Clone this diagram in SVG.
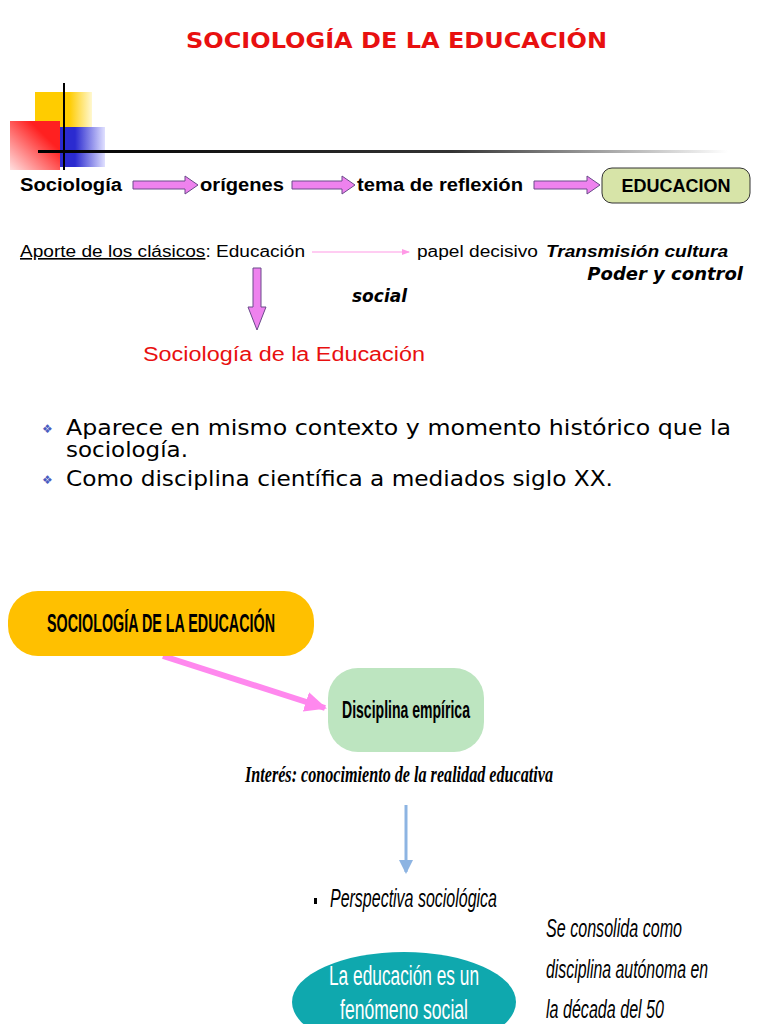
<svg xmlns="http://www.w3.org/2000/svg" width="768" height="1024" viewBox="0 0 768 1024">
<defs>
<style>
.s{font-family:"Liberation Sans",Arial,sans-serif}
.v{font-family:"DejaVu Sans",Verdana,sans-serif}
.bi{font-weight:bold;font-style:italic}
.fat{fill:#ee82ee;stroke:#6a4a8a;stroke-width:1}
</style>
<linearGradient id="hl" x1="0" x2="1"><stop offset="0" stop-color="#000"/><stop offset="0.6" stop-color="#333"/><stop offset="1" stop-color="#fff"/></linearGradient>
<linearGradient id="yl" x1="0" x2="1"><stop offset="0.6" stop-color="#ffcc00"/><stop offset="1" stop-color="#fff8d0"/></linearGradient>
<linearGradient id="bl" x1="0" x2="1"><stop offset="0.5" stop-color="#2b2bd0"/><stop offset="1" stop-color="#e0e0ff"/></linearGradient>
<linearGradient id="rd" x1="1" x2="0" y1="0" y2="1"><stop offset="0.3" stop-color="#ff2020"/><stop offset="1" stop-color="#ffe0e0"/></linearGradient>
<marker id="pa" markerWidth="8" markerHeight="8" refX="7" refY="4" orient="auto" markerUnits="userSpaceOnUse"><path d="M0,1 L8,4 L0,7z" fill="#ff99e6"/></marker>
<marker id="ba" markerWidth="14" markerHeight="14" refX="12" refY="7" orient="auto" markerUnits="userSpaceOnUse"><path d="M0,0 L14,7 L0,14z" fill="#8db4e2"/></marker>
<marker id="pk" markerWidth="24" markerHeight="24" refX="20" refY="12" orient="auto" markerUnits="userSpaceOnUse"><path d="M0,2 L22,12 L0,22z" fill="#ff88ee"/></marker>
</defs>
<rect width="768" height="1024" fill="#fff"/>
<text x="186" y="48" class="v" font-weight="bold" font-size="21" fill="#e81010" textLength="421" lengthAdjust="spacingAndGlyphs">SOCIOLOGÍA DE LA EDUCACIÓN</text>
<g id="deco">
<rect x="35" y="92" width="57" height="58" fill="url(#yl)"/>
<rect x="45" y="127" width="60" height="40" fill="url(#bl)"/>
<rect x="10" y="121" width="50" height="49" fill="url(#rd)"/>
<line x1="64" y1="83" x2="64" y2="170" stroke="#000" stroke-width="2"/>
<rect x="38" y="150" width="690" height="3" fill="url(#hl)"/>
</g>
<g id="connectors">
<path class="fat" d="M133,181 H185 V176 L198,185 L185,194 V189 H133Z"/>
<path class="fat" d="M292,181 H342 V176 L355,185 L342,194 V189 H292Z"/>
<path class="fat" d="M534,181 H587 V176 L600,185 L587,194 V189 H534Z"/>
<line x1="312" y1="252" x2="409" y2="252" stroke="#ff99e6" stroke-width="1.2" marker-end="url(#pa)"/>
<path class="fat" d="M253,268 H261 V307 H266 L257,330 L248,307 H253Z"/>
<line x1="163" y1="656" x2="325" y2="708" stroke="#ff88ee" stroke-width="6" marker-end="url(#pk)"/>
<line x1="406" y1="805" x2="406" y2="872" stroke="#8db4e2" stroke-width="3" marker-end="url(#ba)"/>
</g>
<g id="row1" class="s" font-weight="bold" font-size="18">
<text x="20" y="191" textLength="102" lengthAdjust="spacingAndGlyphs">Sociología</text>
<text x="200" y="191" textLength="84" lengthAdjust="spacingAndGlyphs">orígenes</text>
<text x="357" y="191" textLength="166" lengthAdjust="spacingAndGlyphs">tema de reflexión</text>
</g>
<g id="educacion">
<rect x="602" y="168" width="148" height="35" rx="10" fill="#d7e4a8" stroke="#333" stroke-width="1"/>
<text x="676" y="192" text-anchor="middle" class="s" font-weight="bold" font-size="18">EDUCACION</text>
</g>
<g id="aporte" class="s" font-size="16">
<text x="20" y="257" textLength="285" lengthAdjust="spacingAndGlyphs"><tspan text-decoration="underline">Aporte de los clásicos</tspan>: Educación</text>
<text x="417" y="257" textLength="121" lengthAdjust="spacingAndGlyphs">papel decisivo</text>
<text x="546" y="257" class="bi" textLength="182" lengthAdjust="spacingAndGlyphs">Transmisión cultura</text>
<text x="743" y="280" text-anchor="end" class="bi v" font-size="18">Poder y control</text>
<text x="352" y="302" class="bi v" font-size="17">social</text>
</g>
<text id="socedu" x="143" y="361" class="s" font-size="20" fill="#e81010" textLength="282" lengthAdjust="spacingAndGlyphs">Sociología de la Educación</text>
<g id="bullets" class="v" font-size="21">
<text x="42" y="433" font-size="12" fill="#4a5cc0">❖</text>
<text x="66" y="435" textLength="665" lengthAdjust="spacingAndGlyphs">Aparece en mismo contexto  y momento histórico que la</text>
<text x="66" y="457" textLength="122" lengthAdjust="spacingAndGlyphs">sociología.</text>
<text x="42" y="484" font-size="12" fill="#4a5cc0">❖</text>
<text x="66" y="486" textLength="547" lengthAdjust="spacingAndGlyphs">Como disciplina científica a mediados siglo XX.</text>
</g>
<g id="n-soc">
<rect x="8" y="591" width="306" height="65" rx="30" fill="#ffc000"/>
<text x="47" y="632" class="s" font-weight="bold" font-size="25" textLength="228" lengthAdjust="spacingAndGlyphs">SOCIOLOGÍA DE LA EDUCACIÓN</text>
</g>
<g id="n-emp">
<rect x="328" y="668" width="156" height="84" rx="30" fill="#bde5c0"/>
<text x="342" y="718" class="s" font-weight="bold" font-size="24" textLength="128" lengthAdjust="spacingAndGlyphs">Disciplina empírica</text>
</g>
<text id="interes" x="245" y="782" font-family="Liberation Serif,serif" class="bi" font-size="24" textLength="308" lengthAdjust="spacingAndGlyphs">Interés: conocimiento de la realidad educativa</text>
<g id="persp">
<rect x="314" y="898" width="3" height="6" fill="#000"/>
<text x="330" y="907" class="s" font-style="italic" font-size="25" textLength="167" lengthAdjust="spacingAndGlyphs">Perspectiva sociológica</text>
</g>
<g id="n-fen">
<ellipse cx="404" cy="1002" rx="112" ry="50" fill="#0fa8ae"/>
<text x="404" y="985" text-anchor="middle" class="s" font-size="27" fill="#fff" textLength="150" lengthAdjust="spacingAndGlyphs">La educación es un</text>
<text x="404" y="1019" text-anchor="middle" class="s" font-size="27" fill="#fff" textLength="128" lengthAdjust="spacingAndGlyphs">fenómeno social</text>
</g>
<g id="consolida" class="s" font-style="italic" font-size="26">
<text x="546" y="937" textLength="136" lengthAdjust="spacingAndGlyphs">Se consolida como</text>
<text x="546" y="978" textLength="162" lengthAdjust="spacingAndGlyphs">disciplina autónoma en</text>
<text x="546" y="1018" textLength="118" lengthAdjust="spacingAndGlyphs">la década del 50</text>
</g>
</svg>
